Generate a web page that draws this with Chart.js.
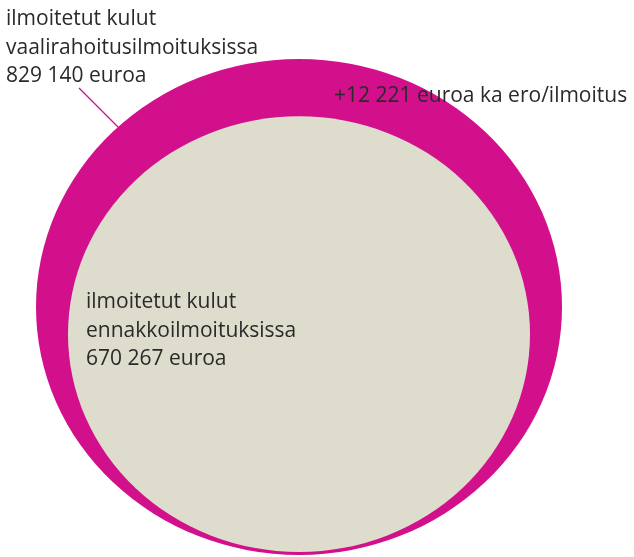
<!DOCTYPE html>
<html>
<head>
<meta charset="utf-8">
<script src="https://cdn.jsdelivr.net/npm/chart.js@4/dist/chart.umd.min.js"></script>
<style>
  html, body { margin: 0; padding: 0; background: #fff; }
  canvas { display: block; }
</style>
</head>
<body>
<canvas id="chart" width="634" height="557"></canvas>
<script>
// data
const categories = ["vaalirahoitusilmoituksissa", "ennakkoilmoituksissa"];
const values = [829140, 670267];
const colors = ["#D2108C", "#DEDCCD"];
const labelLines = [
  ["ilmoitetut kulut", "vaalirahoitusilmoituksissa", "829 140 euroa"],
  ["ilmoitetut kulut", "ennakkoilmoituksissa", "670 267 euroa"]
];
const diffLabel = "+12 221 euroa ka ero/ilmoitus";

// layout
const W = 634, H = 557;
const CENTER_X = 299;
const BASE_Y = 555;     // bottom of the big bubble
const R_MAX = 263;      // horizontal radius of the big bubble
const SIZE_EXP = 0.61;  // how radius grows with value in the original
const ASPECT = 0.943;   // bubbles are a bit squashed vertically
const GAP = [0, 3];
const FONT = '21px "Open Sans", sans-serif';
const TEXT_COLOR = "#2b2a29";

const vmax = Math.max(...values);
const bubbles = values.map((v, i) => {
  const r = R_MAX * Math.pow(v / vmax, SIZE_EXP);
  return { x: CENTER_X, y: BASE_Y - r - GAP[i] / ASPECT, r: r };
});

const squash = {
  id: "squash",
  beforeDatasetsDraw(chart) {
    const ctx = chart.ctx;
    ctx.save();
    ctx.translate(0, BASE_Y);
    ctx.scale(1, ASPECT);
    ctx.translate(0, -BASE_Y);
  },
  afterDatasetsDraw(chart) {
    chart.ctx.restore();
  }
};

const labels = {
  id: "labels",
  afterDraw(chart) {
    const ctx = chart.ctx;
    ctx.save();
    ctx.font = FONT;
    ctx.fillStyle = TEXT_COLOR;
    ctx.textBaseline = "alphabetic";
    labelLines[0].forEach((t, i) => ctx.fillText(t, 6, 25 + i * 28.5));
    labelLines[1].forEach((t, i) => ctx.fillText(t, 86, 308 + i * 28.5));
    ctx.fillText(diffLabel, 334, 102);
    // leader line
    ctx.strokeStyle = colors[0];
    ctx.lineWidth = 1.2;
    ctx.beginPath();
    ctx.moveTo(79, 88);
    ctx.lineTo(119, 128);
    ctx.stroke();
    ctx.restore();
  }
};

new Chart(document.getElementById("chart"), {
  type: "bubble",
  data: {
    labels: categories,
    datasets: [{
      data: bubbles,
      backgroundColor: colors,
      hoverBackgroundColor: colors,
      borderWidth: 0,
      hoverBorderWidth: 0,
      clip: false
    }]
  },
  options: {
    responsive: false,
    devicePixelRatio: 1,
    animation: false,
    layout: { padding: 0, autoPadding: false },
    scales: {
      x: { type: "linear", min: 0, max: W, display: false },
      y: { type: "linear", min: 0, max: H, reverse: true, display: false }
    },
    plugins: {
      legend: { display: false },
      tooltip: { enabled: false }
    }
  },
  plugins: [squash, labels]
});
</script>
</body>
</html>
